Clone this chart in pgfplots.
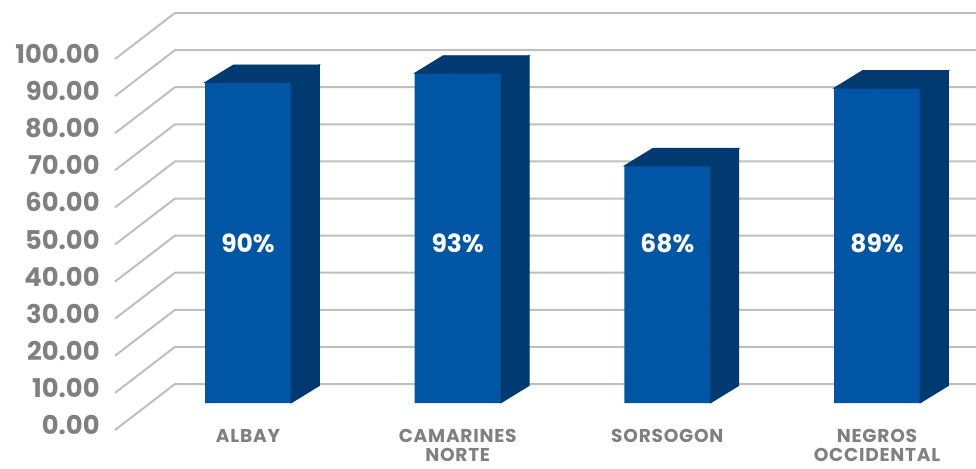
\documentclass[border=0pt]{standalone}
\usepackage{pgfplots}
\pgfplotsset{compat=1.18}
\usepackage{fontspec}
\setmainfont{Poppins}
\definecolor{barfront}{HTML}{0055A5}
\definecolor{bardark}{HTML}{003A70}
\definecolor{gridgray}{HTML}{BFBFBF}
\definecolor{labgray}{HTML}{808080}
\begin{document}
\begin{tikzpicture}
\path[use as bounding box] (0pt,0pt) rectangle (488pt,234pt);
% Axis A: y scale, tick labels and 3D grid (x in pixel units)
\begin{axis}[
  at={(57.5pt,19pt)}, anchor=south west, scale only axis,
  width=430.5pt, height=185.5pt,
  xmin=115, xmax=976, ymin=0, ymax=100,
  clip=false,
  axis line style={draw=none},
  xtick=\empty,
  ytick={0,10,...,100},
  yticklabels={0.00,10.00,20.00,30.00,40.00,50.00,60.00,70.00,80.00,90.00,100.00},
  major tick length=0pt,
  ytick pos=left,
  yticklabel style={anchor=east, inner sep=0pt, xshift=-7.5pt, yshift=2.5pt,
    text=labgray, font=\fontsize{12.9pt}{14pt}\selectfont\bfseries},
]
\pgfplotsinvokeforeach{0,10,...,100}{
  \draw[gridgray, line width=1pt] (axis cs:115,#1) -- (axis cs:175,#1+12.4) -- (axis cs:976,#1+12.4);
}
\end{axis}
% Axis B: bars
\begin{axis}[
  at={(0pt,32.5pt)}, anchor=south west, scale only axis,
  width=488pt, height=177.5pt,
  xmin=-1.1828, xmax=3.4721, ymin=0, ymax=100,
  clip=false,
  axis line style={draw=none},
  ytick=\empty,
  xtick={0,1,2,3},
  xticklabels={ALBAY,{CAMARINES\\NORTE},SORSOGON,{NEGROS\\OCCIDENTAL}},
  major tick length=0pt,
  xtick pos=bottom,
  xticklabel style={anchor=north, align=center, inner sep=0pt, yshift=-13pt,
    text=labgray, font=\fontsize{9.3pt}{9.6pt}\selectfont\bfseries\addfontfeatures{LetterSpace=4}},
]
\addplot[ybar, bar width=43pt, fill=barfront, draw=none]
  coordinates {(0,90.3) (1,92.9) (2,66.8) (3,88.7)};
\addplot[scatter, only marks, mark=*, mark size=0pt,
  visualization depends on={rawy \as \rawy},
  scatter/@pre marker code/.code={%
    \pgfmathsetmacro\hh{\rawy*1.775}%
    \fill[bardark] (-21.5pt,0pt) -- (-7.25pt,8.75pt) -- (35.75pt,8.75pt) -- (21.5pt,0pt) -- cycle;
    \fill[bardark] (21.5pt,0pt) -- (35.75pt,8.75pt) -- ({35.75pt},{8.75pt-\hh pt}) -- ({21.5pt},{-\hh pt}) -- cycle;
  },
  scatter/@post marker code/.code={}]
  coordinates {(0,90.3) (1,92.9) (2,66.8) (3,88.7)};
\addplot[only marks, mark=none, point meta=explicit symbolic,
  nodes near coords,
  every node near coord/.style={anchor=center, text=white, inner sep=0pt,
    font=\fontsize{12.5pt}{14pt}\selectfont\bfseries}]
  coordinates {(0,45.1)[90\%] (1,45.1)[93\%] (2,45.1)[68\%] (3,45.1)[89\%]};
\end{axis}
\end{tikzpicture}
\end{document}
